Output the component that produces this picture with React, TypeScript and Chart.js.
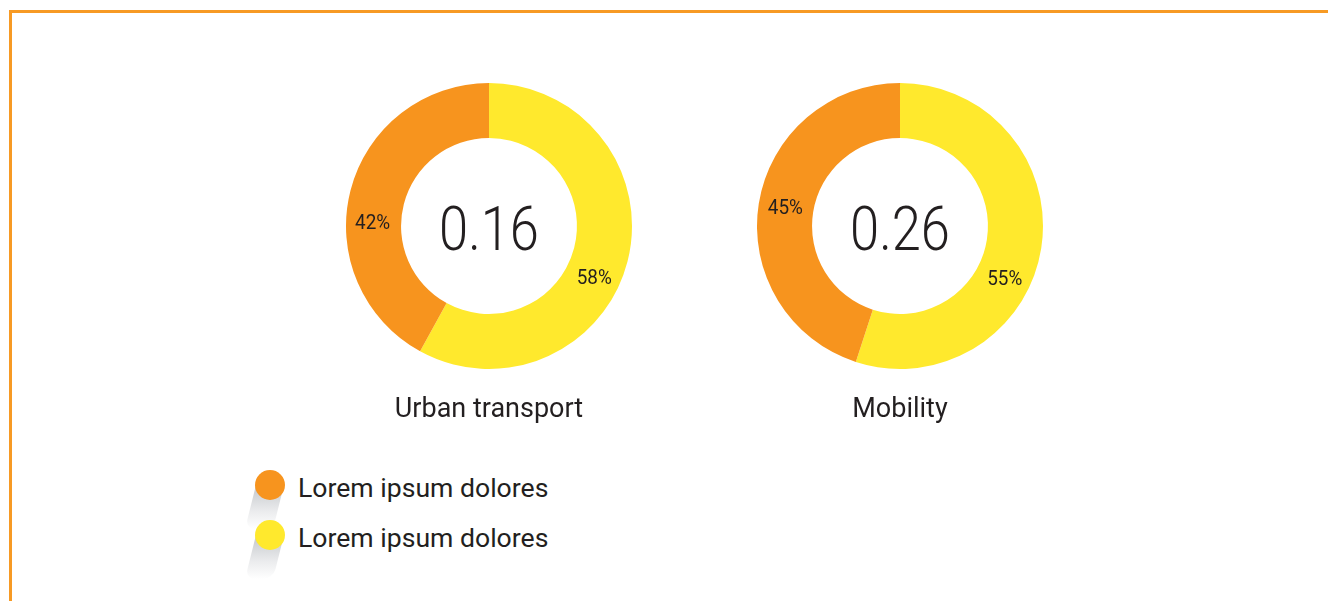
import React, { useEffect, useRef } from "react";
import { Chart, registerables } from "chart.js";

Chart.register(...registerables);

// ---- data ----
const categories = ["Urban transport", "Mobility"];
const centerValues = ["0.16", "0.26"];
const yellowShares = [58, 55];
const orangeShares = [42, 45];
const seriesLabels = ["Lorem ipsum dolores", "Lorem ipsum dolores"];

// ---- style / layout ----
const ORANGE = "#F7941E";
const YELLOW = "#FFE92D";
const TEXT = "#231F20";
const FONT = "Roboto, 'DejaVu Sans', sans-serif";
const CANVAS_W = 300;
const CANVAS_H = 360;
const donutCentersX = [489, 900];
const donutCenterY = 226;
// small angular tweak (degrees) of the percent labels from the arc middle
const labelAngleShift = [
  [11, -12],
  [17, 1],
];

function drawScaledText(
  ctx: CanvasRenderingContext2D,
  text: string,
  x: number,
  y: number,
  font: string,
  scaleX: number
) {
  ctx.save();
  ctx.translate(x, y);
  ctx.scale(scaleX, 1);
  ctx.font = font;
  ctx.fillStyle = TEXT;
  ctx.textAlign = "center";
  ctx.textBaseline = "alphabetic";
  ctx.fillText(text, 0, 0);
  ctx.restore();
}

const donutText = {
  id: "donutText",
  afterDatasetsDraw(chart: any, _args: any, opts: any) {
    const ctx: CanvasRenderingContext2D = chart.ctx;
    const meta = chart.getDatasetMeta(0);
    const values: number[] = chart.data.datasets[0].data;
    let cx = 0;
    let cy = 0;
    meta.data.forEach((arc: any, i: number) => {
      const p = arc.getProps(
        ["x", "y", "startAngle", "endAngle", "innerRadius", "outerRadius"],
        true
      );
      cx = p.x;
      cy = p.y;
      const shift = ((opts.shift?.[i] ?? 0) * Math.PI) / 180;
      const mid = (p.startAngle + p.endAngle) / 2 + shift;
      const r = (p.innerRadius + p.outerRadius) / 2 + 1;
      const lx = p.x + Math.cos(mid) * r;
      const ly = p.y + Math.sin(mid) * r;
      drawScaledText(ctx, values[i] + "%", lx, ly + 8, `400 21px ${FONT}`, 0.9);
    });
    drawScaledText(ctx, opts.center, cx, cy + 24, `300 61px ${FONT}`, 0.86);
    drawScaledText(ctx, opts.title, cx, cy + 191, `400 27px ${FONT}`, 1);
  },
};

function Donut({ index }: { index: number }) {
  const ref = useRef<HTMLCanvasElement | null>(null);
  useEffect(() => {
    if (!ref.current) return;
    const chart = new Chart(ref.current, {
      type: "doughnut",
      data: {
        labels: ["yellow", "orange"],
        datasets: [
          {
            data: [yellowShares[index], orangeShares[index]],
            backgroundColor: [YELLOW, ORANGE],
            borderWidth: 0,
            radius: 143,
          } as any,
        ],
      },
      options: {
        responsive: false,
        animation: false,
        cutout: "61.5%",
        layout: { padding: { top: 0, bottom: CANVAS_H - CANVAS_W } },
        plugins: {
          legend: { display: false },
          tooltip: { enabled: false },
          donutText: {
            center: centerValues[index],
            title: categories[index],
            shift: labelAngleShift[index],
          },
        } as any,
      } as any,
      plugins: [donutText],
    });
    return () => chart.destroy();
  }, [index]);
  return (
    <canvas
      ref={ref}
      width={CANVAS_W}
      height={CANVAS_H}
      style={{
        position: "absolute",
        left: donutCentersX[index] - CANVAS_W / 2,
        top: donutCenterY - CANVAS_W / 2,
        width: CANVAS_W,
        height: CANVAS_H,
      }}
    />
  );
}

const legendColors = [ORANGE, YELLOW];

export default function App() {
  return (
    <div
      style={{
        position: "absolute",
        left: 0,
        top: 0,
        width: 1328,
        height: 601,
        overflow: "hidden",
        background: "#fff",
        fontFamily: FONT,
      }}
    >
      <div
        style={{
          position: "absolute",
          left: 9,
          top: 10,
          width: 1340,
          height: 620,
          borderTop: "3px solid #F79A24",
          borderLeft: "3px solid #F79A24",
        }}
      />
      {categories.map((_, i) => (
        <Donut key={i} index={i} />
      ))}
      {seriesLabels.map((label, i) => {
        const cy = 485 + i * 49.5;
        return (
          <React.Fragment key={i}>
            <div
              style={{
                position: "absolute",
                left: 256,
                top: cy,
                width: 28,
                height: 44,
                background:
                  "linear-gradient(to bottom, rgba(185,188,193,0.85), rgba(215,217,220,0.5) 60%, rgba(255,255,255,0))",
                transform: "skewX(-14deg)",
                transformOrigin: "top",
                borderRadius: "0 0 10px 10px",
              }}
            />
            <div
              style={{
                position: "absolute",
                left: 255,
                top: cy - 15,
                width: 30,
                height: 30,
                borderRadius: "50%",
                background: legendColors[i],
              }}
            />
            <div
              style={{
                position: "absolute",
                left: 298,
                top: cy - 15 + 3,
                height: 30,
                lineHeight: "30px",
                fontSize: 26.6,
                color: TEXT,
                whiteSpace: "nowrap",
              }}
            >
              {label}
            </div>
          </React.Fragment>
        );
      })}
    </div>
  );
}
